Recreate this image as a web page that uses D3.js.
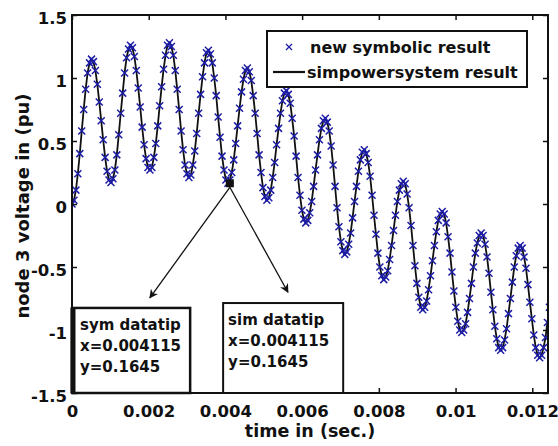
<!DOCTYPE html>
<html><head><meta charset="utf-8">
<script src="https://cdn.jsdelivr.net/npm/d3@7"></script>
<style>
html,body{margin:0;padding:0;background:#fff;}
text{font-family:"DejaVu Sans",Verdana,sans-serif;font-weight:bold;fill:#111;}
</style></head>
<body><svg id="c" width="558" height="446"></svg>
<script>
// ---- data ----
const sampleStep = 0.0000508; // seconds between samples
const simVoltage = [
 0.00,0.03,0.11,0.24,0.40,0.58,0.75,0.91,1.04,1.12,
 1.15,1.13,1.06,0.95,0.81,0.66,0.51,0.37,0.26,0.19,
 0.17,0.20,0.27,0.39,0.55,0.72,0.88,1.04,1.16,1.23,
 1.26,1.24,1.17,1.06,0.92,0.77,0.61,0.47,0.36,0.29,
 0.27,0.29,0.37,0.48,0.62,0.78,0.93,1.07,1.18,1.26,
 1.28,1.25,1.18,1.06,0.91,0.75,0.58,0.43,0.31,0.24,
 0.21,0.23,0.31,0.42,0.56,0.72,0.87,1.01,1.12,1.20,
 1.22,1.19,1.12,1.00,0.86,0.69,0.53,0.38,0.27,0.19,
 0.1645,0.19,0.25,0.35,0.48,0.62,0.76,0.89,0.99,1.06,
 1.08,1.05,0.98,0.86,0.72,0.56,0.39,0.25,0.13,0.06,
 0.03,0.05,0.11,0.21,0.33,0.47,0.60,0.72,0.82,0.88,
 0.90,0.87,0.80,0.68,0.54,0.38,0.21,0.07,-0.05,-0.12,
 -0.15,-0.13,-0.07,0.02,0.14,0.27,0.39,0.51,0.60,0.66,
 0.68,0.65,0.58,0.46,0.31,0.14,-0.03,-0.18,-0.30,-0.37,
 -0.40,-0.38,-0.32,-0.23,-0.11,0.02,0.14,0.26,0.35,0.41,
 0.43,0.40,0.33,0.22,0.07,-0.09,-0.24,-0.39,-0.50,-0.57,
 -0.60,-0.58,-0.53,-0.44,-0.33,-0.21,-0.09,0.02,0.11,0.16,
 0.18,0.16,0.08,-0.03,-0.17,-0.33,-0.49,-0.63,-0.74,-0.82,
 -0.84,-0.82,-0.77,-0.68,-0.57,-0.45,-0.33,-0.22,-0.13,-0.08,
 -0.06,-0.08,-0.15,-0.26,-0.39,-0.54,-0.69,-0.82,-0.93,-1.00,
 -1.02,-1.00,-0.95,-0.86,-0.75,-0.63,-0.50,-0.39,-0.31,-0.25,
 -0.23,-0.25,-0.32,-0.42,-0.55,-0.70,-0.84,-0.97,-1.07,-1.14,
 -1.16,-1.14,-1.08,-0.99,-0.87,-0.75,-0.62,-0.50,-0.41,-0.35,
 -0.33,-0.35,-0.42,-0.51,-0.64,-0.78,-0.91,-1.04,-1.14,-1.20,
 -1.22,-1.20,-1.14,-1.06,-0.94,-0.82
];
const symVoltage = simVoltage.slice(); // symbolic result coincides with simulation
const xTicks = [0,0.002,0.004,0.006,0.008,0.01,0.012];
const xTickLabels = ["0","0.002","0.004","0.006","0.008","0.01","0.012"];
const yTicks = [-1.5,-1,-0.5,0,0.5,1,1.5];
const yTickLabels = ["-1.5","-1","-0.5","0","0.5","1","1.5"];
const legendLabels = ["new symbolic result","simpowersystem result"];
const datatipPoint = {t:0.004115, v:0.1645};
const datatipNames = ["sym datatip","sim datatip"];
const datatipLines = ["x=0.004115","y=0.1645"];
const arrowEnds = [{t:0.00203,v:-0.745},{t:0.00563,v:-0.70}];
const tipBoxes = [{t0:0,t1:0.00308,vTop:-0.825},{t0:0.00394,t1:0.00707,vTop:-0.786}];

// ---- layout ----
const L=72,R=548,T=15,B=393;
const x=d3.scaleLinear().domain([0,0.01241]).range([L,R]);
const y=d3.scaleLinear().domain([-1.5,1.5]).range([B,T]);
const svg=d3.select("#c");
svg.append("rect").attr("width",558).attr("height",446).attr("fill","#fff");

svg.append("defs").append("clipPath").attr("id","clip")
  .append("rect").attr("x",L).attr("y",T).attr("width",R-L).attr("height",B-T);
svg.select("defs").append("marker").attr("id","arr").attr("viewBox","0 0 10 10")
  .attr("refX",9).attr("refY",5).attr("markerWidth",9).attr("markerHeight",9)
  .attr("orient","auto").attr("markerUnits","userSpaceOnUse")
  .append("path").attr("d","M0,0L10,5L0,10L3,5Z").attr("fill","#111");

const pts = simVoltage.map((v,i)=>({t:i*sampleStep,v}));
const symPts = symVoltage.map((v,i)=>({t:i*sampleStep,v}));

const g=svg.append("g").attr("clip-path","url(#clip)");
g.append("path").datum(pts)
 .attr("d",d3.line().x(d=>x(d.t)).y(d=>y(d.v)))
 .attr("fill","none").attr("stroke","#111").attr("stroke-width",1.8);
const s=3.5;
g.selectAll("path.m").data(symPts).enter().append("path").attr("class","m")
 .attr("d",d=>{const px=x(d.t),py=y(d.v);return `M${px-s},${py-s}L${px+s},${py+s}M${px-s},${py+s}L${px+s},${py-s}`;})
 .attr("stroke","#1d1da6").attr("stroke-width",1.5).attr("fill","none");

// axes box and ticks
const ax=svg.append("g");
const axB=d3.axisBottom(x).tickValues(xTicks).tickFormat((d,i)=>xTickLabels[i]).tickSize(-5).tickPadding(12);
const axL=d3.axisLeft(y).tickValues(yTicks).tickFormat((d,i)=>yTickLabels[i]).tickSize(-5).tickPadding(5);
const axT=d3.axisTop(x).tickValues(xTicks).tickFormat("").tickSize(-5);
const axR=d3.axisRight(y).tickValues(yTicks).tickFormat("").tickSize(-5);
ax.append("g").attr("transform",`translate(0,${B})`).call(axB);
const gl=ax.append("g").attr("transform",`translate(${L},0)`).call(axL);
ax.append("g").attr("transform",`translate(0,${T})`).call(axT);
ax.append("g").attr("transform",`translate(${R},0)`).call(axR);
ax.selectAll(".domain").remove();
ax.selectAll(".tick line").attr("stroke","#111").attr("stroke-width",1.5);
ax.selectAll(".tick text").style("font-size","16.5px").attr("fill","#111");
gl.selectAll(".tick text").attr("dy","0.5em");
ax.append("rect").attr("x",L).attr("y",T).attr("width",R-L).attr("height",B-T)
 .attr("fill","none").attr("stroke","#111").attr("stroke-width",2);

// axis labels
svg.append("text").attr("x",(L+R)/2).attr("y",437).attr("text-anchor","middle")
 .style("font-size","17.5px").text("time in (sec.)");
svg.append("text").attr("transform","translate(29,206) rotate(-90)").attr("text-anchor","middle")
 .style("font-size","18px").text("node 3 voltage in (pu)");

// legend
const lg=svg.append("g");
lg.append("rect").attr("x",267).attr("y",31).attr("width",260).attr("height",56)
 .attr("fill","#fff").attr("stroke","#111").attr("stroke-width",2);
lg.append("path").attr("d","M286,44L292,50M286,50L292,44").attr("stroke","#1d1da6").attr("stroke-width",1.3);
lg.append("line").attr("x1",273).attr("x2",305).attr("y1",72).attr("y2",72).attr("stroke","#111").attr("stroke-width",2.2);
lg.append("text").attr("x",310).attr("y",53).style("font-size","16px").text(legendLabels[0]);
lg.append("text").attr("x",307).attr("y",78).style("font-size","16px").text(legendLabels[1]);

// datatip arrows
const p0={x:x(datatipPoint.t),y:y(datatipPoint.v)};
arrowEnds.forEach(e=>{
  svg.append("line").attr("x1",p0.x).attr("y1",p0.y+4).attr("x2",x(e.t)).attr("y2",y(e.v))
   .attr("stroke","#111").attr("stroke-width",1.3).attr("marker-end","url(#arr)");
});
svg.append("rect").attr("x",p0.x-4).attr("y",p0.y-4).attr("width",8).attr("height",8).attr("fill","#111");

// datatip boxes
tipBoxes.forEach((b,i)=>{
  const bx=x(b.t0),by=y(b.vTop),bw=x(b.t1)-x(b.t0),bh=B-y(b.vTop);
  svg.append("rect").attr("x",bx).attr("y",by).attr("width",bw).attr("height",bh)
   .attr("fill","#fff").attr("stroke","#111").attr("stroke-width",i===0?2.5:2);
  if(i===0) svg.append("line").attr("x1",bx+1).attr("x2",bx+1).attr("y1",by).attr("y2",B)
   .attr("stroke","#111").attr("stroke-width",5);
  const tx=bx+(i===0?8:5);
  [datatipNames[i]].concat(datatipLines).forEach((t,k)=>{
    svg.append("text").attr("x",tx).attr("y",by+22+k*21).style("font-size","15px").text(t);
  });
});
</script></body></html>
